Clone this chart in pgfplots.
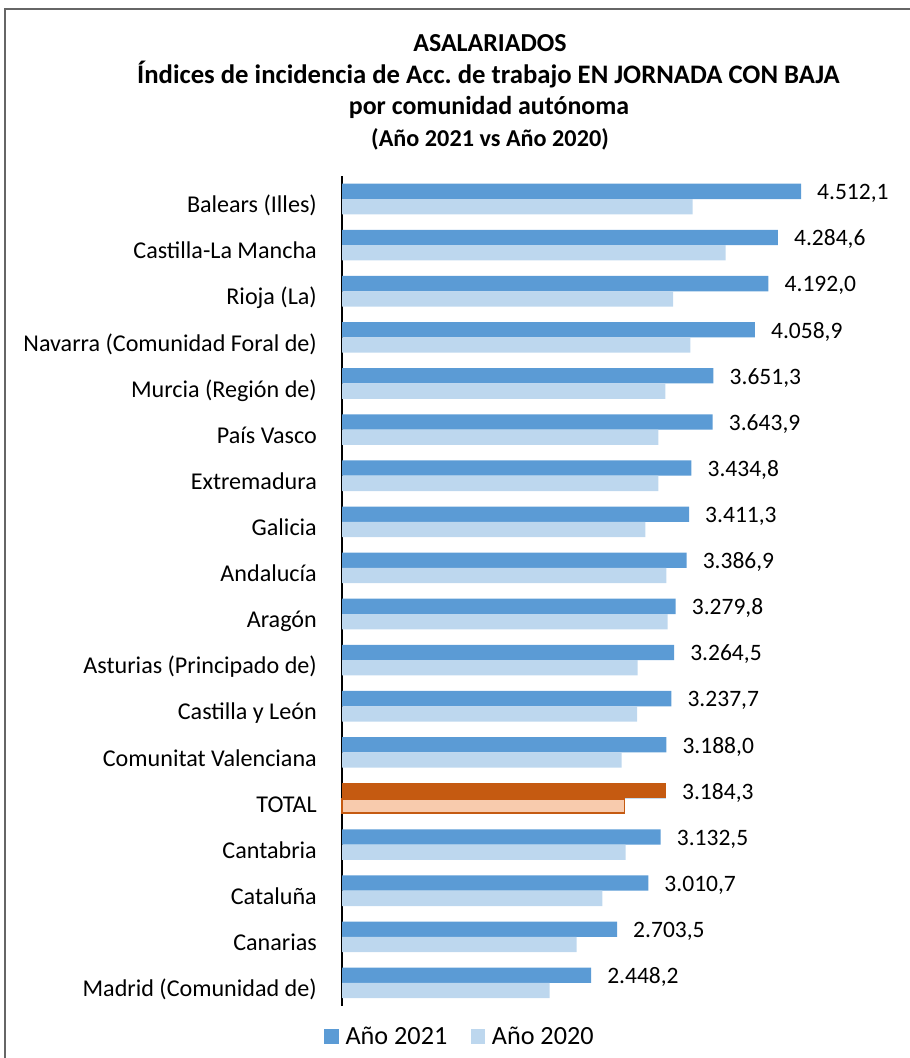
\documentclass[border=0pt]{standalone}
\usepackage{fontspec}
\setmainfont{Carlito}
\usepackage{pgfplots}
\pgfplotsset{compat=1.18}
\definecolor{b21}{HTML}{5B9BD5}
\definecolor{b20}{HTML}{BDD7EE}
\definecolor{o21}{HTML}{C55A11}
\definecolor{o20}{HTML}{F8CBAD}
\definecolor{frame}{HTML}{666666}
\frenchspacing
\begin{document}
\begin{tikzpicture}[x=1bp,y=1bp]
\useasboundingbox (0,0) rectangle (910,1058);
\draw[frame, line width=1.3bp] (5,-5) -- (5,1049) -- (915,1049);
\node[anchor=base, font=\bfseries\fontsize{26}{30}\selectfont] at (490,1006) {ASALARIADOS};
\node[anchor=base, font=\bfseries\fontsize{26.8}{30}\selectfont] at (488.5,974.5) {Índices de incidencia de Acc. de trabajo EN JORNADA CON BAJA};
\node[anchor=base, font=\bfseries\fontsize{26}{30}\selectfont] at (489,943) {por comunidad autónoma};
\node[anchor=base, font=\bfseries\fontsize{24.3}{28}\selectfont] at (490,911.5) {(Año 2021 vs Año 2020)};
\begin{axis}[
  at={(342bp,52bp)}, anchor=south west,
  scale only axis, width=508.65bp, height=830bp,
  xmin=0, xmax=5000, ymin=-0.5, ymax=17.5,
  xbar, bar width=15.3bp, clip=false,
  axis x line=none, axis y line*=left,
  y axis line style={black, line width=1.2bp},
  ytick={0,...,17}, major tick length=0pt, ytick style={draw=none},
  yticklabels={Madrid (Comunidad de),Canarias,Cataluña,Cantabria,TOTAL,Comunitat Valenciana,Castilla y León,Asturias (Principado de),Aragón,Andalucía,Galicia,Extremadura,País Vasco,Murcia (Región de),Navarra (Comunidad Foral de),Rioja (La),Castilla-La Mancha,Balears (Illes)},
  yticklabel style={anchor=base east, inner sep=0pt, xshift=-25bp, yshift=-13.7bp, font=\fontsize{24.2}{28}\selectfont},
  /pgf/number format/assume math mode=true,
  legend style={at={(0.230,-0.0367)}, anchor=center, draw=none, fill=none,
    legend columns=2, inner sep=0pt, font=\fontsize{26.3}{30}\selectfont,
    /tikz/every even column/.append style={column sep=23.3bp},
    /tikz/every odd column/.append style={column sep=0bp},
    nodes={inner sep=0pt, anchor=west}},
  legend image code/.code={\fill[#1,draw=none] (0bp,-7.35bp) rectangle (14.7bp,7.35bp);},
]
\addplot[fill=b21, draw=none, bar shift=7.65bp,
  nodes near coords={\pgfmathprintnumber[fixed,fixed zerofill,precision=1,use comma,1000 sep={.}]{\pgfplotspointmeta}},
  nodes near coords style={anchor=base west, inner sep=0pt, xshift=16bp, yshift=-8.3bp, font=\fontsize{23.6}{27}\selectfont, text=black}]
  coordinates {(2448.2,0) (2703.5,1) (3010.7,2) (3132.5,3) (3184.3,4) (3188.0,5) (3237.7,6) (3264.5,7) (3279.8,8) (3386.9,9) (3411.3,10) (3434.8,11) (3643.9,12) (3651.3,13) (4058.9,14) (4192.0,15) (4284.6,16) (4512.1,17)};
\addlegendentry{\hspace{6.5bp}Año 2021}
\addplot[fill=b20, draw=none, bar shift=-7.65bp]
  coordinates {(2042,0) (2307,1) (2559,2) (2789,3) (2779,4) (2749,5) (2900,6) (2906,7) (3201,8) (3188,9) (2982,10) (3110,11) (3110,12) (3178,13) (3424,14) (3254,15) (3772,16) (3447,17)};
\addlegendentry{\hspace{6.5bp}Año 2020}
\addplot[fill=o21, draw=none, bar shift=7.65bp, forget plot] coordinates {(3184.3,4)};
\addplot[fill=o20, draw=o21, line width=1.5bp, bar shift=-7.65bp, bar width=13.8bp, forget plot] coordinates {(2779,4)};
\end{axis}
\end{tikzpicture}
\end{document}
